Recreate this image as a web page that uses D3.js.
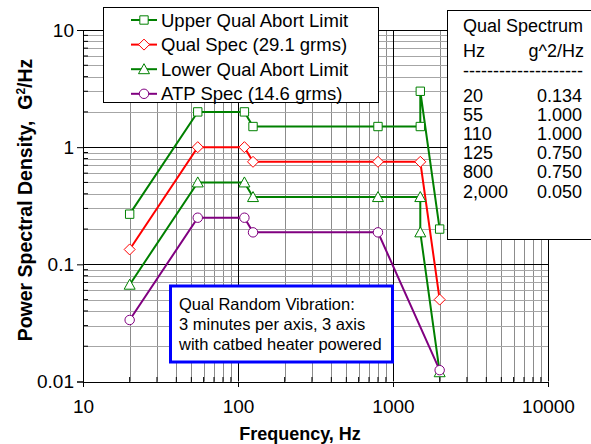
<!DOCTYPE html>
<html>
<head>
<meta charset="utf-8">
<script src="https://cdn.jsdelivr.net/npm/d3@7"></script>
<style>
body { margin: 0; background: #fff; }
text { font-family: Arial, "Liberation Sans", sans-serif; fill: #000; }
</style>
</head>
<body>
<div id="chart"></div>
<script>
// PSD curves
var freqUpper = [20, 55, 110, 125, 800, 1500, 1500, 2000];
var psdUpper = [0.268, 2, 2, 1.5, 1.5, 1.5, 3, 0.2];
var freqQual = [20, 55, 110, 125, 800, 1500, 2000];
var psdQual = [0.134, 1, 1, 0.75, 0.75, 0.75, 0.05];
var freqLower = [20, 55, 110, 125, 800, 1500, 1500, 2000];
var psdLower = [0.067, 0.5, 0.5, 0.375, 0.375, 0.375, 0.1875, 0.012];
var freqATP = [20, 55, 110, 125, 800, 2000];
var psdATP = [0.0335, 0.25, 0.25, 0.1875, 0.1875, 0.0125];

var seriesNames = ["Upper Qual Abort Limit", "Qual Spec (29.1 grms)", "Lower Qual Abort Limit", "ATP Spec (14.6 grms)"];

// table in the upper right corner
var tableHz = ["20", "55", "110", "125", "800", "2,000"];
var tableG = ["0.134", "1.000", "1.000", "0.750", "0.750", "0.050"];

var xTicks = [10, 100, 1000, 10000];
var yTicks = [0.01, 0.1, 1, 10];
var yTickLabels = ["0.01", "0.1", "1", "10"];

var noteLines = ["Qual Random Vibration:", "3 minutes per axis, 3 axis", "with catbed heater powered"];

var W = 591, H = 444;
var plot = {left: 83, right: 548, top: 30, bottom: 381.5};

var svg = d3.select("#chart").append("svg")
	.attr("width", W)
	.attr("height", H);

var xS = d3.scaleLog().domain([10, 10000]).range([plot.left, plot.right]);
var yS = d3.scaleLog().domain([0.01, 10]).range([plot.bottom, plot.top]);

// minor values inside each decade
function minors(lo, hi)
{
	var out = [];
	for(var d = lo; d < hi; d *= 10)
		for(var k = 2; k <= 9; k++) out.push(d * k);
	return out;
}
var xMinor = minors(10, 10000);
var yMinor = minors(0.01, 10);

//Grid
var grid = svg.append("g");
grid.selectAll(".vminor").data(xMinor).enter().append("line")
	.attr("x1", function(d) { return Math.round(xS(d)) + 0.5; })
	.attr("x2", function(d) { return Math.round(xS(d)) + 0.5; })
	.attr("y1", plot.top).attr("y2", plot.bottom)
	.attr("stroke", "#8c8c8c");
grid.selectAll(".hminor").data(yMinor).enter().append("line")
	.attr("y1", function(d) { return Math.round(yS(d)) + 0.5; })
	.attr("y2", function(d) { return Math.round(yS(d)) + 0.5; })
	.attr("x1", plot.left).attr("x2", plot.right)
	.attr("stroke", "#a6a6a6");
grid.selectAll(".vmajor").data(xTicks).enter().append("line")
	.attr("x1", function(d) { return Math.round(xS(d)) + 0.5; })
	.attr("x2", function(d) { return Math.round(xS(d)) + 0.5; })
	.attr("y1", plot.top).attr("y2", plot.bottom)
	.attr("stroke", "#000");
grid.selectAll(".hmajor").data(yTicks).enter().append("line")
	.attr("y1", function(d) { return Math.round(yS(d)) + 0.5; })
	.attr("y2", function(d) { return Math.round(yS(d)) + 0.5; })
	.attr("x1", plot.left).attr("x2", plot.right)
	.attr("stroke", "#000");

//Axes
var xAxis = d3.axisBottom(xS).tickValues(xTicks).tickFormat(d3.format("d")).tickSize(5).tickPadding(13);
var gx = svg.append("g")
	.attr("transform", "translate(0," + Math.round(plot.bottom) + ")")
	.call(xAxis);
gx.selectAll("text").style("font-size", "19px");
gx.append("g").selectAll("line").data(xMinor).enter().append("line")
	.attr("x1", function(d) { return xS(d); })
	.attr("x2", function(d) { return xS(d); })
	.attr("y1", 0).attr("y2", -5)
	.attr("stroke", "#000");

var yAxis = d3.axisLeft(yS).tickValues(yTicks).tickFormat(function(d, i) { return yTickLabels[i]; }).tickSize(6).tickPadding(3);
var gy = svg.append("g")
	.attr("transform", "translate(" + plot.left + ",0)")
	.call(yAxis);
gy.selectAll("text").style("font-size", "19px");
gy.append("g").selectAll("line").data(yMinor).enter().append("line")
	.attr("y1", function(d) { return yS(d); })
	.attr("y2", function(d) { return yS(d); })
	.attr("x1", 0).attr("x2", 5)
	.attr("stroke", "#000");
svg.selectAll(".domain").attr("stroke", "#000");

//Axis titles
svg.append("text")
	.attr("x", 300)
	.attr("y", 440)
	.attr("text-anchor", "middle")
	.style("font-size", "18px")
	.style("font-weight", "bold")
	.text("Frequency, Hz");

var yTitle = svg.append("text")
	.attr("transform", "translate(32,200) rotate(-90)")
	.attr("text-anchor", "middle")
	.style("font-size", "19.5px")
	.style("font-weight", "bold")
	.style("white-space", "pre");
yTitle.append("tspan").text("Power Spectral Density,  G");
yTitle.append("tspan").attr("dy", -7).style("font-size", "12px").text("2");
yTitle.append("tspan").attr("dy", 7).text("/Hz");

//Series
var series = [
	{name: seriesNames[0], x: freqUpper, y: psdUpper, color: "#008000", marker: "square"},
	{name: seriesNames[1], x: freqQual, y: psdQual, color: "#ff0000", marker: "diamond"},
	{name: seriesNames[2], x: freqLower, y: psdLower, color: "#008000", marker: "triangle"},
	{name: seriesNames[3], x: freqATP, y: psdATP, color: "#800080", marker: "circle"}
];

function markerPath(type)
{
	switch(type)
	{
		case "square": return d3.symbol().type(d3.symbolSquare).size(70)();
		case "diamond": return "M0,-5.5L5.5,0L0,5.5L-5.5,0Z";
		case "triangle": return "M0,-5.5L5.5,4.5L-5.5,4.5Z";
		case "circle": return d3.symbol().type(d3.symbolCircle).size(70)();
	}
}

var line = d3.line()
	.x(function(d) { return xS(d[0]); })
	.y(function(d) { return yS(d[1]); });

series.forEach(function(s)
{
	var pts = s.x.map(function(f, i) { return [f, s.y[i]]; });
	var g = svg.append("g");
	g.append("path")
		.datum(pts)
		.attr("d", line)
		.attr("fill", "none")
		.attr("stroke", s.color)
		.attr("stroke-width", 2);
	g.selectAll(".pt").data(pts).enter().append("path")
		.attr("transform", function(d) { return "translate(" + xS(d[0]) + "," + yS(d[1]) + ")"; })
		.attr("d", markerPath(s.marker))
		.attr("fill", "#fff")
		.attr("stroke", s.color)
		.attr("stroke-width", 1);
});

//Legend
var legend = svg.append("g");
legend.append("rect")
	.attr("x", 103.5).attr("y", 7.5)
	.attr("width", 275).attr("height", 95)
	.attr("fill", "#fff")
	.attr("stroke", "#000");
series.forEach(function(s, i)
{
	var cy = 20 + i * 24.6;
	legend.append("line")
		.attr("x1", 131).attr("x2", 157)
		.attr("y1", cy).attr("y2", cy)
		.attr("stroke", s.color)
		.attr("stroke-width", 2);
	legend.append("path")
		.attr("transform", "translate(144," + cy + ")")
		.attr("d", markerPath(s.marker))
		.attr("fill", "#fff")
		.attr("stroke", s.color);
	legend.append("text")
		.attr("x", 161)
		.attr("y", cy + 6.5)
		.style("font-size", "18.5px")
		.text(s.name);
});

//Spectrum table
var table = svg.append("g");
table.append("rect")
	.attr("x", 447.5).attr("y", 10.5)
	.attr("width", 160).attr("height", 229)
	.attr("fill", "#fff")
	.attr("stroke", "#000");
table.append("text").attr("x", 463).attr("y", 32).style("font-size", "18px").text("Qual Spectrum");
table.append("text").attr("x", 463).attr("y", 57).style("font-size", "18px").text("Hz");
table.append("text").attr("x", 584).attr("y", 57).attr("text-anchor", "end").style("font-size", "18px").text("g^2/Hz");
table.append("text").attr("x", 463).attr("y", 77).style("font-size", "18px").text("--------------------");
tableHz.forEach(function(h, i)
{
	var by = 102 + i * 19.1;
	table.append("text").attr("x", 463).attr("y", by).style("font-size", "18px").text(h);
	table.append("text").attr("x", 582).attr("y", by).attr("text-anchor", "end").style("font-size", "18px").text(tableG[i]);
});

//Note box
var note = svg.append("g");
note.append("rect")
	.attr("x", 170.5).attr("y", 286)
	.attr("width", 222).attr("height", 76)
	.attr("fill", "#fff")
	.attr("stroke", "#0000ff")
	.attr("stroke-width", 3);
noteLines.forEach(function(t, i)
{
	note.append("text")
		.attr("x", 179)
		.attr("y", 310 + i * 19.8)
		.style("font-size", "16.5px")
		.text(t);
});
</script>
</body>
</html>
